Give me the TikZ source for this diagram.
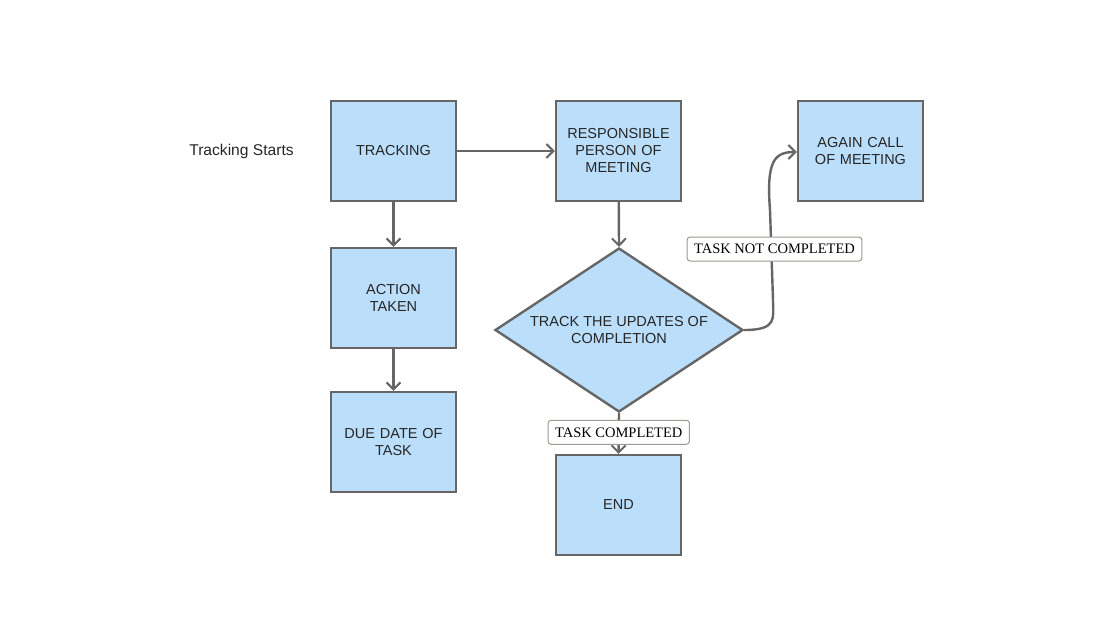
\documentclass[tikz,border=0pt]{standalone}
\usepackage{fontspec}
\setmainfont{Liberation Sans}
\newfontfamily\labelfont{Liberation Serif}
\usetikzlibrary{arrows.meta,shapes.geometric}
\definecolor{boxfill}{RGB}{187,222,251}
\definecolor{boxline}{RGB}{102,102,102}
\definecolor{lblline}{RGB}{160,154,144}
\begin{document}
\begin{tikzpicture}[x=1pt,y=-1pt,
  boxnode/.style={draw=boxline,fill=boxfill,line width=2.4pt,minimum width=125pt,minimum height=100pt,inner sep=2pt,align=center,text width=118pt,font=\fontsize{14.5}{17}\selectfont,text=black!85},
  decision/.style={draw=boxline,fill=boxfill,line width=2.4pt,diamond,minimum width=248pt,minimum height=164pt,inner sep=0pt},
  dectext/.style={align=center,font=\fontsize{14.5}{17}\selectfont,text=black!85},
  conn/.style={draw=boxline,line width=2.4pt,-{Straight Barb[length=7pt,width=14pt,line width=2pt]}},
  lbl/.style={draw=lblline,fill=white,rounded corners=3pt,line width=1pt,font=\labelfont\fontsize{14.5}{16}\selectfont,inner xsep=7pt,minimum height=24pt,inner ysep=2pt}]
\useasboundingbox (0,0) rectangle (1106,637);
\node[font=\fontsize{15.6}{18}\selectfont,text=black!85] (start) at (241.5,151) {Tracking Starts};
\node[boxnode] (track) at (393.5,151) {TRACKING};
\node[boxnode] (resp) at (618.5,151) {RESPONSIBLE\\PERSON OF\\MEETING};
\node[boxnode] (again) at (860.5,151) {AGAIN CALL\\OF MEETING};
\node[boxnode] (action) at (393.5,298) {ACTION\\TAKEN};
\node[boxnode] (due) at (393.5,442) {DUE DATE OF\\TASK};
\node[decision] (dec) at (619,330) {};
\node[dectext] (dectxt) at (dec.center) {TRACK THE UPDATES OF\\COMPLETION};
\node[boxnode] (end) at (618.5,505) {END};
\coordinate (c1) at (773,300);
\coordinate (c2) at (770,210);
\draw[conn] (track) -- (resp);
\draw[conn] (track) -- (action);
\draw[conn] (action) -- (due);
\draw[conn] (resp) -- (dec.north);
\draw[conn] (dec.south) -- (end.north) node[lbl,pos=0.47] (lc) {TASK COMPLETED};
\draw[conn] (dec.east) .. controls (778,330) and (773,318) .. (c1) -- (c2) .. controls (766,160) and (775,152) .. (again.west |- 0,152);
\node[lbl] (lnc) at (774.5,249) {TASK NOT COMPLETED};
\end{tikzpicture}
\end{document}
